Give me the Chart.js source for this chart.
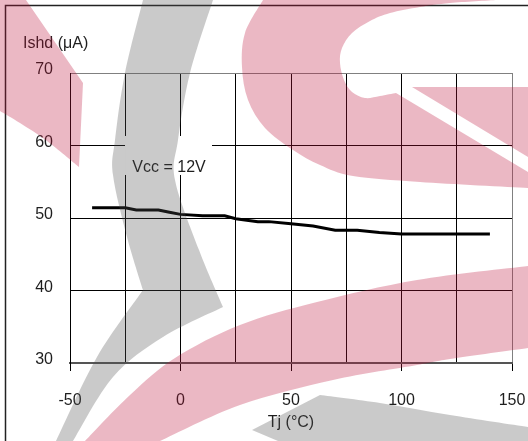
<!DOCTYPE html>
<html>
<head>
<meta charset="utf-8">
<script src="https://cdn.jsdelivr.net/npm/chart.js@4.4.1/dist/chart.umd.min.js"></script>
<style>
  html, body { margin: 0; padding: 0; background: #fff; }
  #wrap { width: 528px; height: 441px; }
</style>
</head>
<body>
<div id="wrap"><canvas id="chart"></canvas></div>
<script>
// Ishd vs junction temperature
const tempC = [-40, -25, -20, -10, -5, 0, 10, 20, 25, 35, 40, 50, 60, 70, 80, 90, 100, 140];
const ishd = [51.4, 51.4, 51.1, 51.1, 50.8, 50.5, 50.3, 50.3, 49.9, 49.5, 49.5, 49.2, 48.9, 48.3, 48.3, 48.0, 47.8, 47.8];
const xLabelValues = [-50, 0, 50, 100, 150];
const yLabelValues = [30, 40, 50, 60, 70];
const xTitle = 'Tj (°C)';
const yTitle = 'Ishd (μA)';
const noteText = 'Vcc = 12V';

const FONT = "Arial, 'Liberation Sans', sans-serif";
const TEXT = '#1e1e1e';

// smooth curve through points, current point must be pts[0]
function curveThrough(ctx, pts) {
    for (let i = 0; i < pts.length - 1; i++) {
        const p0 = pts[i - 1] || pts[i], p1 = pts[i], p2 = pts[i + 1], p3 = pts[i + 2] || p2;
        ctx.bezierCurveTo(
            p1[0] + (p2[0] - p0[0]) / 6, p1[1] + (p2[1] - p0[1]) / 6,
            p2[0] - (p3[0] - p1[0]) / 6, p2[1] - (p3[1] - p1[1]) / 6,
            p2[0], p2[1]);
    }
}

// background logo that sits over the figure
function drawWatermark(ctx) {
    ctx.save();
    const pink = 'rgba(190, 20, 60, 0.3)';
    const grey = 'rgba(80, 80, 80, 0.3)';

    // top-left pink wedge
    ctx.fillStyle = pink;
    ctx.beginPath();
    ctx.moveTo(0, 0);
    ctx.lineTo(26, 0);
    ctx.lineTo(83, 83);
    ctx.lineTo(79, 167);
    curveThrough(ctx, [[79, 167], [47, 141], [20, 123], [0, 111]]);
    ctx.closePath();
    ctx.fill();

    // big pink hook, top right
    ctx.beginPath();
    ctx.moveTo(263, 0);
    curveThrough(ctx, [[263, 0], [245, 33], [242, 67], [248, 100], [265, 128], [293, 150], [320, 165], [353, 176], [420, 182], [528, 188]]);
    ctx.lineTo(528, 0);
    ctx.closePath();
    ctx.moveTo(528, 0);
    ctx.lineTo(497, 0);
    curveThrough(ctx, [[497, 0], [450, 3], [420, 7], [390, 13], [370, 21], [352, 33], [342, 48], [340, 63], [344, 80], [352, 92], [365, 98], [380, 96], [396, 93]]);
    ctx.lineTo(528, 172);
    ctx.lineTo(528, 157);
    ctx.lineTo(412, 87);
    ctx.lineTo(528, 87);
    ctx.closePath();
    ctx.fill('evenodd');

    // lower pink band
    ctx.beginPath();
    ctx.moveTo(528, 266);
    curveThrough(ctx, [[528, 266], [417, 280], [317, 302], [240, 325], [175, 358], [130, 395], [85, 441]]);
    ctx.lineTo(160, 441);
    curveThrough(ctx, [[160, 441], [240, 405], [333, 380], [417, 365], [450, 359], [528, 348]]);
    ctx.closePath();
    ctx.fill();

    // grey band
    ctx.fillStyle = grey;
    ctx.beginPath();
    ctx.moveTo(143, 0);
    curveThrough(ctx, [[143, 0], [125, 73], [115, 140], [113, 175], [127, 237], [143, 290]]);
    curveThrough(ctx, [[143, 290], [97, 357], [56, 441]]);
    ctx.lineTo(73, 441);
    curveThrough(ctx, [[73, 441], [113, 377], [163, 337], [223, 307]]);
    curveThrough(ctx, [[223, 307], [199, 250], [175, 180], [178, 140], [190, 73], [213, 0]]);
    ctx.closePath();
    ctx.fill();

    // grey sweep, bottom right
    ctx.beginPath();
    ctx.moveTo(320, 395);
    curveThrough(ctx, [[320, 395], [380, 403], [450, 415], [528, 427]]);
    ctx.lineTo(528, 441);
    ctx.lineTo(278, 441);
    ctx.lineTo(252, 430);
    ctx.closePath();
    ctx.fill();
    ctx.restore();
}

const decor = {
    id: 'decor',
    afterDatasetsDraw(chart) {
        const ctx = chart.ctx;
        const x = chart.scales.x.getPixelForValue(-5.2);
        const y = chart.scales.y.getPixelForValue(56.9);
        ctx.save();
        ctx.fillStyle = '#fff';
        ctx.fillRect(x - 44, y - 32, 87, 39);
        ctx.font = '16px ' + FONT;
        ctx.fillStyle = TEXT;
        ctx.textAlign = 'center';
        ctx.textBaseline = 'middle';
        ctx.fillText(noteText, x, y);
        ctx.restore();
    },
    afterDraw(chart) {
        const ctx = chart.ctx;
        ctx.save();
        // outer frame
        ctx.strokeStyle = '#222';
        ctx.lineWidth = 1.5;
        ctx.beginPath();
        ctx.moveTo(5.5, 441);
        ctx.lineTo(5.5, 5.5);
        ctx.lineTo(528, 5.5);
        ctx.stroke();
        // y axis title, horizontal above the axis
        ctx.font = '16px ' + FONT;
        ctx.fillStyle = TEXT;
        ctx.textAlign = 'left';
        ctx.textBaseline = 'middle';
        ctx.fillText(yTitle, 23, 44);
        ctx.restore();
        drawWatermark(ctx);
    }
};

const ctx = document.getElementById('chart').getContext('2d');
new Chart(ctx, {
    type: 'line',
    data: {
        datasets: [{
            data: tempC.map((t, i) => ({ x: t, y: ishd[i] })),
            borderColor: '#000',
            borderWidth: 3,
            pointRadius: 0,
            pointHoverRadius: 0,
            tension: 0,
            fill: false
        }]
    },
    options: {
        responsive: true,
        maintainAspectRatio: false,
        animation: false,
        devicePixelRatio: 1,
        layout: { autoPadding: false, padding: { left: 35, top: 73, right: 16, bottom: 8.4 } },
        plugins: { legend: { display: false }, tooltip: { enabled: false } },
        scales: {
            x: {
                type: 'linear',
                min: -50,
                max: 150,
                afterFit: s => { s.height = 69.6; s.paddingLeft = 0; s.paddingRight = 0; },
                ticks: {
                    stepSize: 25,
                    autoSkip: false,
                    maxRotation: 0,
                    padding: 20,
                    color: TEXT,
                    font: { family: FONT, size: 16 },
                    callback: v => xLabelValues.includes(v) ? String(v) : ''
                },
                grid: {
                    color: c => c.tick && c.tick.value === 150 ? '#808080' : '#000',
                    lineWidth: 1,
                    tickLength: 8,
                    tickColor: c => c.tick && xLabelValues.includes(c.tick.value) ? '#000' : 'rgba(0,0,0,0)'
                },
                border: { color: '#555', width: 2 },
                title: {
                    display: true,
                    text: xTitle,
                    color: TEXT,
                    font: { family: FONT, size: 16 },
                    padding: { top: 3.2, bottom: 0 }
                }
            },
            y: {
                min: 30,
                max: 70,
                afterBuildTicks: axis => { axis.ticks = yLabelValues.map(v => ({ value: v })); },
                afterFit: s => { s.width = 35; s.paddingTop = 0; s.paddingBottom = 0; },
                ticks: {
                    padding: 17,
                    labelOffset: -3,
                    color: TEXT,
                    font: { family: FONT, size: 16 }
                },
                grid: {
                    drawTicks: false,
                    color: c => c.tick && c.tick.value === 70 ? '#808080' : '#000',
                    lineWidth: 1
                },
                border: { color: '#000', width: 1 }
            }
        }
    },
    plugins: [decor]
});
</script>
</body>
</html>
